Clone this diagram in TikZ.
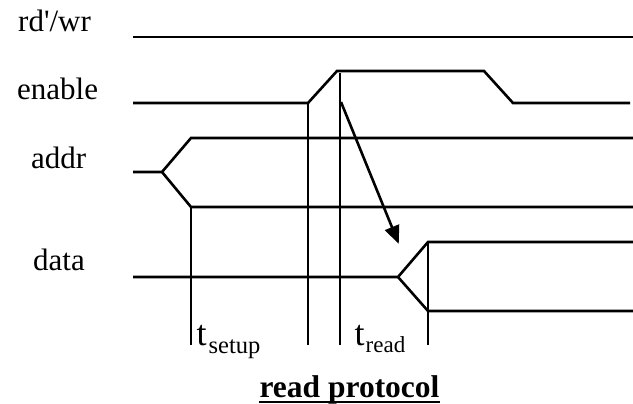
\documentclass[tikz,border=0pt]{standalone}
\usepackage{fontspec}
\setmainfont{Liberation Serif}
\usetikzlibrary{arrows.meta}
\begin{document}
\begin{tikzpicture}[x=1pt,y=-1pt,
  sig/.style={line width=2.6pt, line join=miter, line cap=butt},
  lbl/.style={font=\fontsize{31}{36}\selectfont, inner sep=0pt, anchor=base west},
  tlbl/.style={font=\fontsize{36}{40}\selectfont, inner sep=0pt, anchor=base west},
  arr/.style={line width=2.6pt, -{Triangle[length=18pt,width=15pt]}, shorten >=-2pt}]
\useasboundingbox (0,0) rectangle (633,404);
% labels
\node[lbl] (rdwr) at (18,32) {rd\textquotesingle/wr};
\node[lbl] (en) at (17,100) {enable};
\node[lbl] (ad) at (31,168) {addr};
\node[lbl] (da) at (33,270) {data};
% coordinates
\coordinate (r0) at (133,37);
\coordinate (r1) at (633,37);
\coordinate (e0) at (133,103);
\coordinate (e1) at (308,103);
\coordinate (e2) at (337,71);
\coordinate (e3) at (484,71);
\coordinate (e4) at (513,103);
\coordinate (e5) at (630,103);
\coordinate (a0) at (133,172);
\coordinate (a1) at (162,172);
\coordinate (a2) at (191,138);
\coordinate (a3) at (191,207);
\coordinate (a4) at (633,138);
\coordinate (a5) at (633,207);
\coordinate (d0) at (133,277);
\coordinate (d1) at (398,277);
\coordinate (d2) at (428,242);
\coordinate (d3) at (428,311);
\coordinate (d4) at (633,242);
\coordinate (d5) at (633,311);
\coordinate (b1) at (191,345);
\coordinate (b2) at (308,345);
\coordinate (b3) at (340,345);
\coordinate (b4) at (428,345);
\coordinate (v3) at (340,73);
\coordinate (as) at (341,102);
\coordinate (ae) at (398,242);
% signals
\draw[sig] (r0) -- (r1);
\draw[sig] (e0) -- (e1) -- (e2) -- (e3) -- (e4) -- (e5);
\draw[sig] (a0) -- (a1) -- (a2) -- (a4);
\draw[sig] (a1) -- (a3) -- (a5);
\draw[sig] (d0) -- (d1) -- (d2) -- (d4);
\draw[sig] (d1) -- (d3) -- (d5);
% markers
\draw[sig] (a3) -- (b1);
\draw[sig] (e1) -- (b2);
\draw[sig] (v3) -- (b3);
\draw[sig] (d2) -- (b4);
\draw[arr] (as) -- (ae);
% timing labels
\node[tlbl] (ts) at (196.5,345) {t\kern2pt\raisebox{-8pt}{\fontsize{24.5}{27}\selectfont setup}};
\node[tlbl] (tr) at (354.5,345) {t\kern1pt\raisebox{-7pt}{\fontsize{23}{26}\selectfont read}};
\node[font=\bfseries\fontsize{31.5}{34}\selectfont, anchor=base, inner sep=0pt] (title) at (349.5,397) {read protocol};
\draw[line width=2pt] ([yshift=-5pt]title.base west) -- ([yshift=-5pt]title.base east);
\end{tikzpicture}
\end{document}
